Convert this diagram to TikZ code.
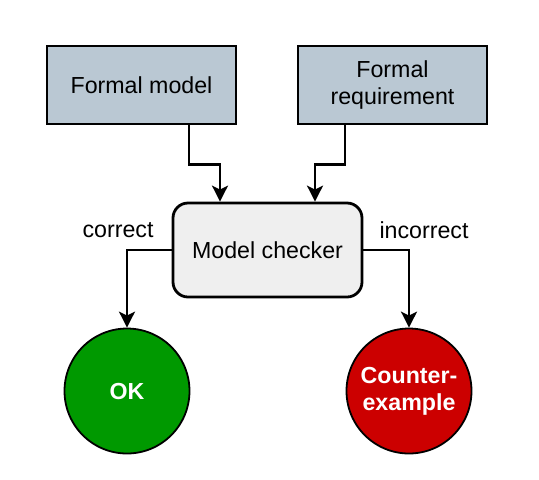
\documentclass[tikz,border=0pt]{standalone}
\usepackage{fontspec}
\setmainfont{Liberation Sans}
\usetikzlibrary{calc,arrows.meta,shapes.geometric}
\definecolor{boxblue}{HTML}{BAC8D3}
\definecolor{boxgray}{HTML}{EFEFEF}
\definecolor{okgreen}{HTML}{009900}
\definecolor{cered}{HTML}{CC0000}
\tikzset{
  inbox/.style={draw=black, line width=1.4pt, fill=boxblue, minimum width=94.5pt, minimum height=39pt, inner sep=0pt, align=center, font=\fontsize{11.6}{13.6}\selectfont},
  checker/.style={draw=black, line width=1.4pt, fill=boxgray, rounded corners=7.5pt, minimum width=94.5pt, minimum height=47pt, inner sep=0pt, align=center, font=\fontsize{11.6}{13.6}\selectfont},
  result/.style={circle, draw=black, line width=0.9pt, minimum size=62.5pt, inner sep=0pt, align=center, text=white, font=\fontsize{11.6}{13.6}\selectfont\bfseries},
  arr/.style={line width=1.25pt, -{Stealth[length=8pt,width=8pt,inset=2pt]}},
  lbl/.style={font=\fontsize{11.6}{13.6}\selectfont, inner sep=0pt}
}
\begin{document}
\begin{tikzpicture}[x=0.5pt,y=-0.5pt]
\useasboundingbox (0,0) rectangle (539,479);
\node[inbox] (fm) at (141.5,85) {Formal model};
\node[inbox] (fr) at (392.5,85) {Formal\\requirement};
\node[checker] (mc) at (267.5,250) {Model checker};
\node[result, fill=okgreen] (ok) at (127,391) {OK};
\node[result, fill=cered] (ce) at (409,391) {Counter-\\example};
\draw[arr] ($(fm.south)+(47.5,0)$) -- ++(0,39) -| ($(mc.north)+(-47.5,0)$);
\draw[arr] ($(fr.south)+(-47.5,0)$) -- ++(0,39) -| ($(mc.north)+(47.5,0)$);
\draw[arr] (mc.west) -| (ok.north);
\draw[arr] (mc.east) -| (ce.north);
\node[lbl] (lc) at (118,230) {correct};
\node[lbl] (li) at (424,230) {incorrect};
\end{tikzpicture}
\end{document}
